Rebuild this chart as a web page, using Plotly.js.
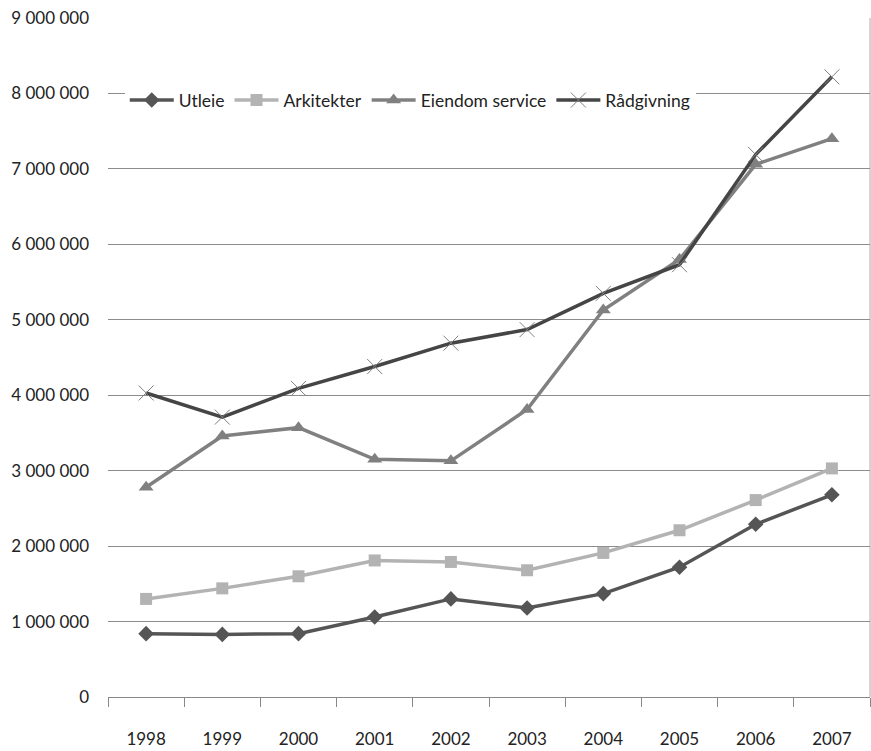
<!DOCTYPE html>
<html>
<head>
<meta charset="utf-8">
<script src="https://cdn.plot.ly/plotly-3.0.1.min.js"></script>
<style>
  html, body { margin: 0; padding: 0; background: #fff; }
  #chart { width: 871px; height: 751px; }
</style>
</head>
<body>
<div id="chart"></div>
<script>
const years = ["1998","1999","2000","2001","2002","2003","2004","2005","2006","2007"];
const utleie = [840000, 830000, 840000, 1060000, 1300000, 1180000, 1370000, 1720000, 2290000, 2680000];
const arkitekter = [1300000, 1440000, 1600000, 1810000, 1790000, 1680000, 1910000, 2210000, 2610000, 3030000];
const eiendomService = [2780000, 3460000, 3570000, 3150000, 3130000, 3810000, 5130000, 5800000, 7060000, 7400000];
const raadgivning = [4030000, 3710000, 4090000, 4380000, 4690000, 4870000, 5350000, 5730000, 7190000, 8220000];
const seriesNames = ["Utleie", "Arkitekter", "Eiendom service", "Rådgivning"];

const FONT = "Lato, 'Open Sans', sans-serif";

const traces = [
  {
    x: years, y: utleie, name: seriesNames[0], type: "scatter", mode: "lines+markers",
    line: { color: "#555555", width: 3.5 },
    marker: { symbol: "diamond", size: 12, color: "#555555" }
  },
  {
    x: years, y: arkitekter, name: seriesNames[1], type: "scatter", mode: "lines+markers",
    line: { color: "#b3b3b3", width: 3.5 },
    marker: { symbol: "square", size: 12, color: "#b3b3b3" }
  },
  {
    x: years, y: eiendomService, name: seriesNames[2], type: "scatter", mode: "lines+markers",
    line: { color: "#808080", width: 3.5 },
    marker: { symbol: "triangle-up", size: 13, color: "#808080" }
  },
  {
    x: years, y: raadgivning, name: seriesNames[3], type: "scatter", mode: "lines+markers",
    line: { color: "#454545", width: 3.5 },
    marker: { symbol: "x-thin-open", size: 15, color: "#808080", line: { color: "#808080", width: 1 } }
  }
];

const layout = {
  width: 871, height: 751,
  margin: { l: 108, r: 1, t: 18, b: 54 },
  paper_bgcolor: "#ffffff",
  plot_bgcolor: "#ffffff",
  separators: ", ",
  font: { family: FONT, size: 17, color: "#222222" },
  showlegend: true,
  legend: {
    orientation: "h",
    x: 0.022, y: 0.879, xanchor: "left", yanchor: "middle",
    bgcolor: "#ffffff",
    font: { family: FONT, size: 17.5, color: "#222222" },
    traceorder: "normal",
    itemwidth: 44
  },
  xaxis: {
    type: "category",
    range: [-0.5, 9.5],
    tickson: "boundaries",
    ticks: "outside", ticklen: 9, tickcolor: "#888888", tickwidth: 1,
    showline: true, linecolor: "#888888", linewidth: 1,
    showgrid: false, zeroline: false,
    tickfont: { family: FONT, size: 17, color: "#222222" },
    ticklabelstandoff: 27,
    fixedrange: true
  },
  yaxis: {
    range: [0, 9000000],
    dtick: 1000000, tick0: 0,
    tickformat: ",d",
    showgrid: true, gridcolor: "#8c8c8c", gridwidth: 1,
    zeroline: false, showline: false, ticks: "",
    tickfont: { family: FONT, size: 17, color: "#222222" },
    ticklabelstandoff: 18,
    fixedrange: true
  },
  shapes: [
    { type: "line", xref: "paper", yref: "paper", x0: 1, x1: 1, y0: 0, y1: 1,
      line: { color: "#aaaaaa", width: 1 }, layer: "below" }
  ]
};

Plotly.newPlot("chart", traces, layout, { displayModeBar: false, staticPlot: true });
</script>
</body>
</html>
